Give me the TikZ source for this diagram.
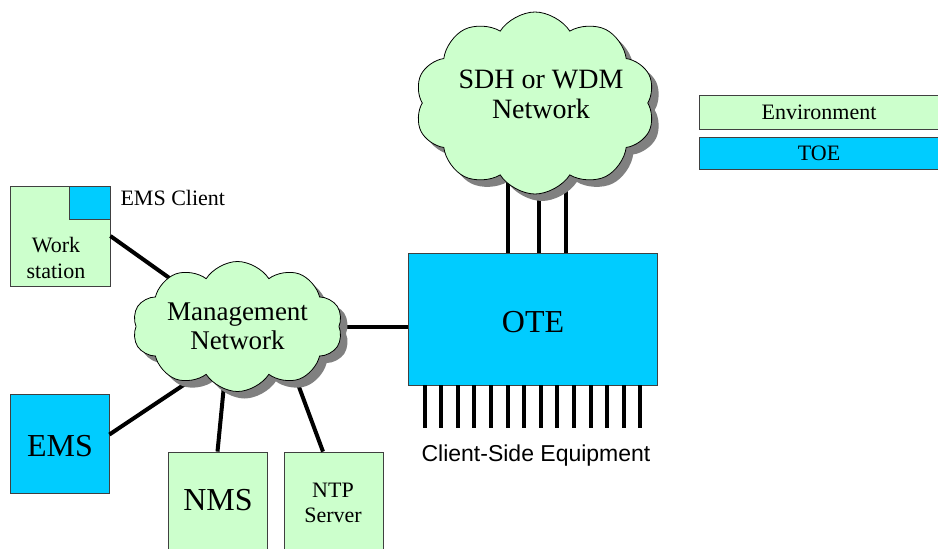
\documentclass[tikz,border=0pt]{standalone}
\usepackage{fontspec}
\setmainfont{Liberation Serif}
\setsansfont{Liberation Sans}
\usetikzlibrary{shapes.symbols,shadows,calc}
\definecolor{envgreen}{HTML}{CCFFCC}
\definecolor{toeblue}{HTML}{00CCFF}
\newcommand{\fs}[1]{\fontsize{#1}{1.15\dimexpr#1pt\relax}\selectfont}

\begin{document}
\begin{tikzpicture}[x=1pt,y=-1pt,
    envbox/.style={draw=black!75,fill=envgreen,line width=0.8pt},
    toebox/.style={draw=black!75,fill=toeblue,line width=0.8pt},
    netcloud/.style={cloud,cloud puffs=10,cloud puff arc=115,cloud ignores aspect,
      draw=black,fill=envgreen,line width=0.8pt,align=center,inner sep=0pt,
      drop shadow={shadow xshift=7pt,shadow yshift=-7pt,fill=black!50,opacity=1}},
    link/.style={line width=4pt}]
    \useasboundingbox (0,0) rectangle (938,549);
    % boxes
    \node[toebox,minimum width=249pt,minimum height=132pt] (ote) at (532.5,319) {};
    \node[font=\fs{32}] (ote-text) at (533,322) {OTE};
    \node[envbox,minimum width=100pt,minimum height=100pt] (ws) at (60,236) {};
    \node[toebox,minimum width=41pt,minimum height=33pt] (wsc) at (89.5,202.5) {};
    \node[font=\fs{22},align=center,inner sep=0pt] (ws-text) at (56,258) {Work\\station};
    \node[font=\fs{22},anchor=west] (wsc-text) at (117,198) {EMS Client};
    \node[toebox,minimum width=99pt,minimum height=99pt] (ems) at (59.5,443.5) {};
    \node[font=\fs{32}] (ems-text) at (60,446) {EMS};
    \node[envbox,minimum width=99pt,minimum height=110pt] (nms) at (217.5,507) {};
    \node[font=\fs{32}] (nms-text) at (218,500) {NMS};
    \node[envbox,minimum width=99pt,minimum height=110pt] (ntp) at (333.5,507) {};
    \node[font=\fs{22},align=center,inner sep=0pt] (ntp-text) at (333,503) {NTP\\Server};
    % legend
    \node[envbox,minimum width=240pt,minimum height=34pt,font=\fs{22}] (env) at (819,112) {Environment};
    \node[toebox,minimum width=240pt,minimum height=32pt,font=\fs{22}] (toe) at (819,153) {TOE};
    % links behind the clouds
    \coordinate (mgmt-c) at (237.5,326.5);
    \foreach \dx in {-24.5,6.5,33.5}
      \draw[link] ($(ote.north)+(\dx,0)$) -- ($(ote.north)+(\dx,-100)$);
    \draw[link] (ote.west |- mgmt-c) -- (mgmt-c);
    \draw[link] (ws.east) -- (mgmt-c);
    \draw[link] ($(ems.east)+(0,-9)$) -- ($(mgmt-c)+(-37.5,47.5)$);
    \draw[link] (nms.north) -- ($(mgmt-c)+(-12.5,48.5)$);
    \draw[link] ($(ntp.north)+(-10.5,0)$) -- ($(mgmt-c)+(51.5,33.5)$);
    % clouds
    \node[netcloud,minimum width=240pt,minimum height=182pt] (sdh) at (535,103) {};
    \node[font=\fs{28},align=center] (sdh-text) at (541,94) {SDH or WDM\\[-2pt]Network};
    \node[netcloud,minimum width=210pt,minimum height=130pt,font=\fs{27}] (mgmt) at (mgmt-c)
      {Management\\[-2pt]Network};
    % client side pins
    \foreach \i in {0,...,13}
      \draw[link] ($(ote.south west)+(17+16.6*\i,0)$) -- ++(0,43);
    \node[font=\sffamily\fs{23}] (cse) at (536,456) {Client-Side Equipment};
  \end{tikzpicture}
\end{document}
